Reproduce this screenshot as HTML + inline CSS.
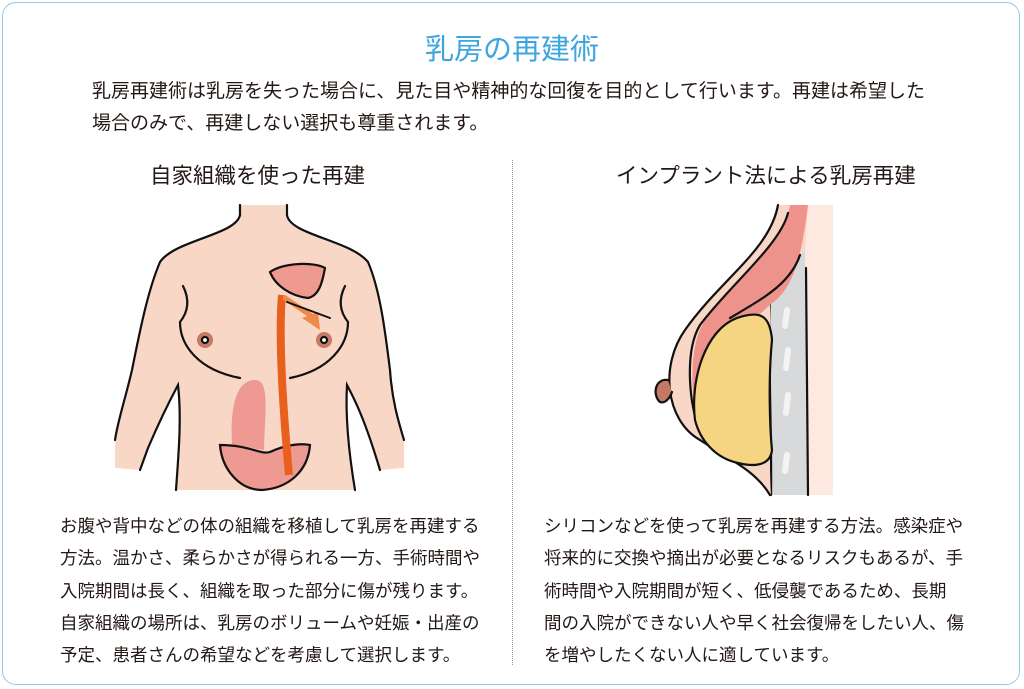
<!DOCTYPE html>
<html><head><meta charset="utf-8"><style>
html,body{margin:0;padding:0;background:#fff}
body{width:1024px;height:689px;position:relative;overflow:hidden;font-family:"Liberation Sans","Noto Sans CJK JP",sans-serif;color:#231815}
.frame{position:absolute;left:2px;top:2px;width:1018px;height:683px;border:1.5px solid #8fcbea;border-radius:14px;box-sizing:border-box}
.t{position:absolute;white-space:nowrap}
</style></head><body>
<div class="frame"></div>
<div class="t" style="left:0;width:1024px;text-align:center;top:26px;font-size:29px;color:#3ea6de">乳房の再建術</div>
<div class="t" style="left:92px;top:76px;font-size:19px;line-height:32px">乳房再建術は乳房を失った場合に、見た目や精神的な回復を目的として行います。再建は希望した<br>場合のみで、再建しない選択も尊重されます。</div>
<div class="t" style="left:150px;top:159px;font-size:21.5px">自家組織を使った再建</div>
<div class="t" style="left:616px;top:159px;font-size:21.5px">インプラント法による乳房再建</div>
<div style="position:absolute;left:512px;top:160px;height:505px;border-left:1.5px dotted #999"></div>
<div class="t" style="left:60px;top:510px;font-size:17.5px;line-height:32.3px">お腹や背中などの体の組織を移植して乳房を再建する<br>方法。温かさ、柔らかさが得られる一方、手術時間や<br>入院期間は長く、組織を取った部分に傷が残ります。<br>自家組織の場所は、乳房のボリュームや妊娠・出産の<br>予定、患者さんの希望などを考慮して選択します。</div>
<div class="t" style="left:544px;top:510px;font-size:17.5px;line-height:32.3px">シリコンなどを使って乳房を再建する方法。感染症や<br>将来的に交換や摘出が必要となるリスクもあるが、手<br>術時間や入院期間が短く、低侵襲であるため、長期<br>間の入院ができない人や早く社会復帰をしたい人、傷<br>を増やしたくない人に適しています。</div>
<svg width="1024" height="689" style="position:absolute;left:0;top:0" fill="none" stroke="#111" stroke-width="2.2" stroke-linecap="round">
<path d="M240,205 L240,215 C236,235 175,240 160,262 C148,290 140,330 132,370 C125,400 118,420 115,440 L115,468 L140,470 L148,448 C160,420 170,400 178,385 C182,420 178,460 176,490 L355,490 C350,460 345,420 347,385 C355,400 365,420 380,470 L404,468 L404,440 C398,420 392,400 390,370 C385,330 380,290 368,262 C350,240 290,235 287,215 L287,205 Z" fill="#f9d7c6" stroke="none"/>
<path d="M240,205 L240,215 C236,235 175,240 160,262 C148,290 140,330 132,370 C125,400 118,420 115,440"/>
<path d="M140,470 L148,448 C160,420 170,400 178,385 C182,420 178,460 176,490"/>
<path d="M287,205 L287,215 C290,235 350,240 368,262 C380,290 385,330 390,370 C392,400 398,420 404,440"/>
<path d="M380,470 C365,420 355,400 347,385 C345,420 350,460 355,490"/>
<path d="M183,286 C190,300 188,312 180,322 C180,345 198,370 240,378"/>
<path d="M345,286 C338,300 340,312 348,322 C348,345 330,370 290,378"/>
<circle cx="205" cy="340" r="8" fill="#c47a64" stroke="none"/><circle cx="205" cy="340" r="3" fill="#fff"/>
<circle cx="324" cy="340" r="8" fill="#c47a64" stroke="none"/><circle cx="324" cy="340" r="3" fill="#fff"/>
<path d="M232,445 C230,410 235,380 255,380 C270,380 265,410 264,450 Z" fill="#ee9a92" stroke="none"/>
<path d="M220,445 C250,445 260,455 270,452 C285,445 300,443 310,445 C308,470 290,488 262,490 C240,490 222,470 220,445 Z" fill="#ee9a92"/>
<path d="M270,272 C285,262 315,262 325,268 C322,285 318,296 308,298 C290,296 275,285 270,272 Z" fill="#ef9a90"/>
<path d="M289,475 C284,420 278,340 282,295" stroke="#e8601c" stroke-width="8" stroke-linecap="butt"/>
<path d="M285,298 L310,315" stroke="#ef8a4a" stroke-width="5"/>
<path d="M302,318 L320,330 L318,312 Z" fill="#ef8a4a" stroke="none"/>
<path d="M287,302 L330,318" stroke-width="2"/>
<rect x="805" y="205" width="28" height="290" fill="#fde9df" stroke="none"/>
<path d="M770,300 L805,250 L808,495 L771,495 C768,450 772,350 770,300 Z" fill="#d8d9da" stroke="none"/>
<path d="M806,268 L808,495"/>
<path d="M770,300 C768,360 772,440 771,495"/>
<path d="M787,310 l-2,16 M788,350 l-2,18 M788,395 l-2,18 M787,455 l-2,16" stroke="#f3f3f3" stroke-width="6"/>
<path d="M778,205 C770,250 720,280 685,330 C660,365 665,420 700,440 C730,460 755,470 770,495 L771,495 C768,450 772,350 770,300 L805,250 L808,205 Z" fill="#f9d7c6" stroke="none"/>
<path d="M790,205 C785,240 735,280 705,320 C688,345 690,400 700,430 L710,420 C720,370 740,330 770,305 C790,290 800,270 808,205 Z" fill="#ee938c" stroke="none"/>
<path d="M778,205 C770,250 720,280 685,330 C660,365 665,420 700,440 C730,460 755,470 770,495"/>
<path d="M788,213 C780,245 730,285 700,325 C685,350 688,400 700,432"/>
<path d="M800,255 C790,285 760,300 730,318"/>
<path d="M737,318 C760,310 770,315 772,340 C768,380 770,430 772,450 C770,468 750,466 738,463 C715,458 700,440 695,420 C690,380 705,330 737,318 Z" fill="#f5d482"/>
<path d="M668,380 C655,378 652,395 660,402 C665,404 670,398 672,392" fill="#c27a64"/>
</svg>
</body></html>
